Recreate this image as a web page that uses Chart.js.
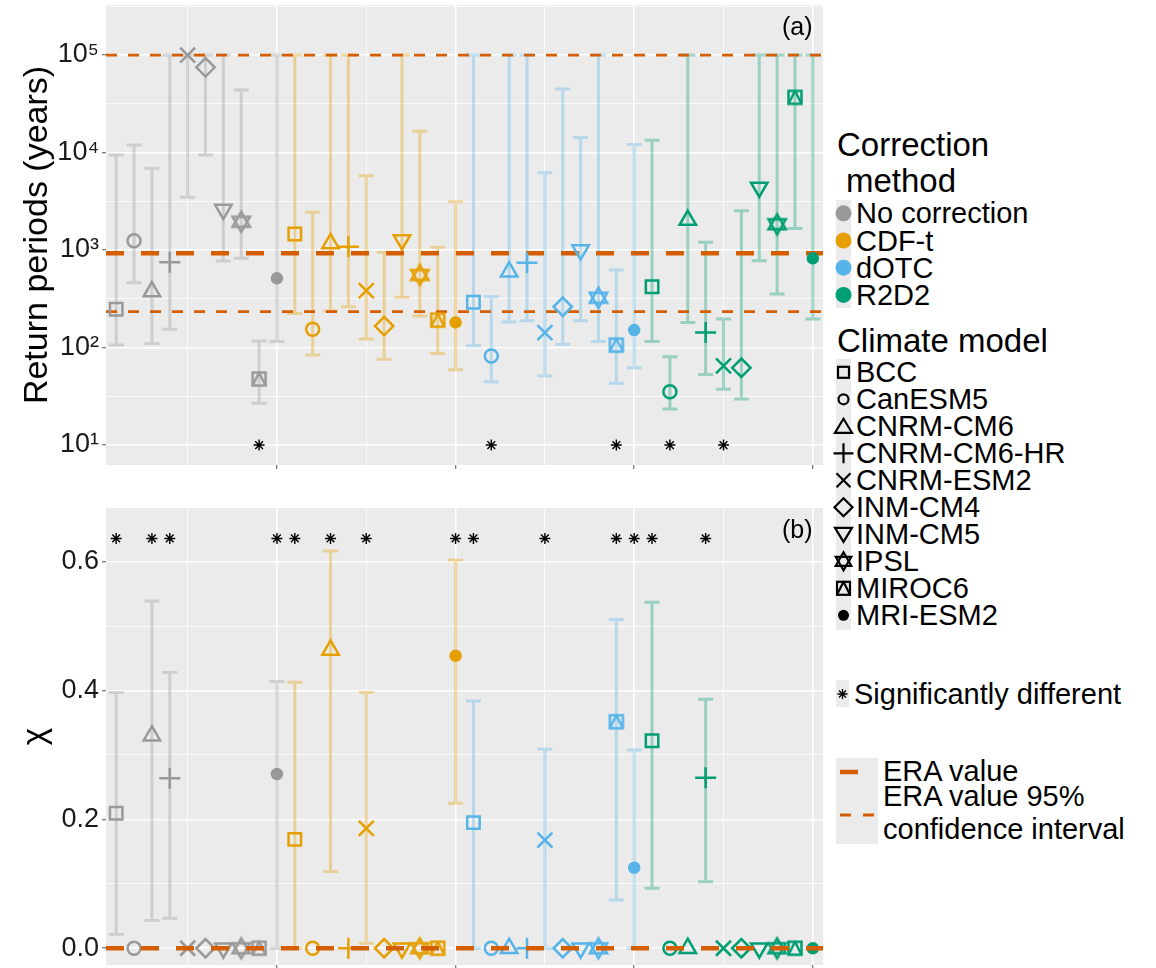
<!DOCTYPE html>
<html><head><meta charset="utf-8">
<script src="https://cdn.jsdelivr.net/npm/chart.js@4.4.0/dist/chart.umd.min.js"></script>
<style>
body{margin:0;background:#fff;width:1156px;height:968px;overflow:hidden;font-family:"Liberation Sans",Arial,sans-serif;}
#wrap{position:relative;width:1156px;height:968px;}
canvas{position:absolute;}
.t{position:absolute;white-space:nowrap;line-height:1;color:#000;}
svg{position:absolute;left:0;top:0;}
</style></head><body><div id="wrap">
<canvas id="ca" width="830" height="475" style="left:0;top:0"></canvas>
<canvas id="cb" width="830" height="468" style="left:0;top:500px"></canvas>
</div>
<script>
// ---------------- categories ----------------
const methods = ['No correction', 'CDF-t', 'dOTC', 'R2D2'];
const methodColors = ['#999999', '#E69F00', '#56B4E9', '#009E73'];
const models = ['BCC', 'CanESM5', 'CNRM-CM6', 'CNRM-CM6-HR', 'CNRM-ESM2', 'INM-CM4', 'INM-CM5', 'IPSL', 'MIROC6', 'MRI-ESM2'];

// ---------------- panel (a): return periods (years) ----------------
const rpNoCorr   = [247, 1245, 375, 750, 100000, 74800, 2600, 1950, 47.5, 513];
const rpNoCorrLo = [106, 462, 110, 154, 3470, 9420, 771, 822, 26.8, 115];
const rpNoCorrHi = [9420, 11940, 6890, 100000, 100000, 100000, 100000, 43700, 117, 100000];
const rpCDFt     = [1460, 154, 1170, 1080, 383, 166, 1270, 555, 191, 181];
const rpCDFtLo   = [224, 84, 237, 262, 122, 76, 327, 210, 87, 59];
const rpCDFtHi   = [100000, 2440, 100000, 100000, 5780, 946, 100000, 16500, 1067, 3130];
const rpDOTC     = [291, 82, 600, 741, 142, 262, 1000, 324, 106, 151];
const rpDOTCLo   = [104, 44.6, 183, 188, 51, 108, 188, 115, 43, 62];
const rpDOTCHi   = [100000, 332, 100000, 100000, 6210, 44800, 14300, 100000, 624, 12100];
const rpR2D2     = [421, 35.2, 2030, 143, 65, 62, 4380, 1840, 36800, 822];
const rpR2D2Lo   = [115, 23.4, 181, 53, 37.3, 29.6, 776, 354, 1667, 196];
const rpR2D2Hi   = [13400, 80.6, 100000, 1200, 196, 2530, 100000, 100000, 100000, 100000];
const eraReturn = 925;
const eraReturnCILow = 233;
const eraReturnCIHigh = 100000;
const sigReturnIdx = [9, 22, 29, 32, 35];
const sigReturnLevel = 10;
const rpTickValues = [10, 100, 1000, 10000, 100000];
const rpTickLabels = ['10¹', '10²', '10³', '10⁴', '10⁵'];

// ---------------- panel (b): chi ----------------
const chiNoCorr   = [0.2095, 0, 0.330, 0.264, 0, 0, 0, 0, 0, 0.2705];
const chiNoCorrLo = [0.0217, null, 0.043, 0.0465, null, null, null, null, null, 0];
const chiNoCorrHi = [0.397, null, 0.539, 0.428, null, null, null, null, null, 0.414];
const chiCDFt     = [0.169, 0, 0.463, 0, 0.186, 0, 0, 0, 0, 0.454];
const chiCDFtLo   = [0, null, 0.119, null, 0.0078, null, null, null, null, 0.225];
const chiCDFtHi   = [0.4127, null, 0.6165, null, 0.397, null, null, null, null, 0.6025];
const chiDOTC     = [0.195, 0, 0, 0, 0.168, 0, 0, 0, 0.3516, 0.125];
const chiDOTCLo   = [0, null, null, null, 0, null, null, null, 0.0749, 0];
const chiDOTCHi   = [0.3837, null, null, null, 0.3088, null, null, null, 0.5104, 0.3077];
const chiR2D2     = [0.322, 0, 0, 0.2647, 0, 0, 0, 0, 0, 0];
const chiR2D2Lo   = [0.0931, null, null, 0.1034, null, null, null, null, null, null];
const chiR2D2Hi   = [0.537, null, null, 0.3863, null, null, null, null, null, null];
const eraChi = 0;
const sigChiIdx = [1, 3, 4, 10, 11, 13, 15, 20, 21, 25, 29, 30, 31, 34];
const sigChiLevel = 0.636;
const chiTickValues = [0, 0.2, 0.4, 0.6];
const chiTickLabels = ['0.0', '0.2', '0.4', '0.6'];
const chiMinorValues = [0.1, 0.3, 0.5];

// ---------------- axis limits ----------------
const xMin = 0.43, xMax = 40.57;
const xMajor = [10, 20, 30, 40], xMinor = [5, 15, 25, 35];
const rpMin = 6.24, rpMax = 3.26e5;
const chiMin = -0.026, chiMax = 0.6833;

const FONT = '"Liberation Sans", Arial, sans-serif';
const ERA_COLOR = '#D55E00';

function hexA(hex, a){
  const n = parseInt(hex.slice(1), 16);
  return `rgba(${(n>>16)&255},${(n>>8)&255},${n&255},${a})`;
}

// composite marker images
function triPath(g, cx, cy, r, down){
  g.beginPath();
  for (let i = 0; i < 3; i++){
    const a = (down ? Math.PI : 0) + i * 2 * Math.PI / 3;
    g.lineTo(cx + r * Math.sin(a), cy - r * Math.cos(a));
  }
  g.closePath(); g.stroke();
}
function starOfDavid(color, r, lw){
  const size = Math.ceil(2 * r + 2 * lw + 4);
  const c = document.createElement('canvas'); c.width = c.height = size;
  const g = c.getContext('2d'); g.strokeStyle = color; g.lineWidth = lw;
  triPath(g, size/2, size/2, r, false);
  triPath(g, size/2, size/2, r, true);
  return c;
}
function squareTri(color, s, lw){
  const size = Math.ceil(s + 2 * lw + 4);
  const c = document.createElement('canvas'); c.width = c.height = size;
  const g = c.getContext('2d'); g.strokeStyle = color; g.lineWidth = lw;
  const cx = size/2, cy = size/2, h = s/2;
  g.strokeRect(cx - h, cy - h, s, s);
  g.lineJoin = 'round';
  g.beginPath(); g.moveTo(cx - h, cy + h); g.lineTo(cx, cy - h); g.lineTo(cx + h, cy + h); g.stroke();
  return c;
}

const LW = 2.5;
function pointStylesFor(color){
  return ['rect', 'circle', 'triangle', 'cross', 'crossRot', 'rectRot', 'triangle',
          starOfDavid(color, 10, LW), squareTri(color, 13, LW), 'circle'];
}
const pointRadii = [8.8, 6.5, 9.5, 10.5, 10.6, 9.2, 9.5, 10, 10, 5];
const pointRotations = [0, 0, 0, 0, 0, 0, 180, 0, 0, 0];

function methodDataset(mi, est, lo, hi, order){
  const color = methodColors[mi];
  return {
    type: 'scatter',
    label: methods[mi],
    data: est.map((v, k) => ({x: mi * 10 + k + 1, y: v})),
    errLo: lo, errHi: hi, errColor: hexA(color, 0.35),
    pointStyle: pointStylesFor(color),
    pointRadius: pointRadii,
    pointRotation: pointRotations,
    pointBorderColor: color,
    pointBackgroundColor: models.map((m, k) => k === 9 ? color : 'rgba(0,0,0,0)'),
    pointBorderWidth: LW,
    order: order
  };
}
function refLine(val, width, dash, order){
  return {
    type: 'line',
    data: [{x: xMin, y: val}, {x: xMax, y: val}],
    borderColor: ERA_COLOR, borderWidth: width, borderDash: dash,
    pointRadius: 0, fill: false, tension: 0, order: order
  };
}
function starSet(idx, level){
  return {
    type: 'scatter',
    data: idx.map(i => ({x: i, y: level})),
    pointStyle: 'star', pointRadius: 5.5, pointBorderColor: '#000',
    pointBackgroundColor: '#000', pointBorderWidth: 1.4, order: 0
  };
}

const panelBg = {
  id: 'panelBg',
  beforeDraw(chart){
    const {ctx, chartArea: a} = chart;
    ctx.save(); ctx.fillStyle = '#EBEBEB';
    ctx.fillRect(a.left, a.top, a.right - a.left, a.bottom - a.top);
    ctx.restore();
  }
};
const errorBars = {
  id: 'errorBars',
  beforeDatasetsDraw(chart){
    const {ctx, chartArea: a, scales: {x, y}} = chart;
    ctx.save();
    ctx.beginPath(); ctx.rect(a.left, a.top, a.right - a.left, a.bottom - a.top); ctx.clip();
    chart.data.datasets.forEach(ds => {
      if (!ds.errLo) return;
      ctx.strokeStyle = ds.errColor; ctx.lineWidth = 3; ctx.lineCap = 'butt';
      ds.data.forEach((p, i) => {
        const lo = ds.errLo[i], hi = ds.errHi[i];
        if (lo == null || hi == null) return;
        const px = x.getPixelForValue(p.x);
        const y1 = y.getPixelForValue(lo), y2 = y.getPixelForValue(hi);
        ctx.beginPath();
        ctx.moveTo(px, y1); ctx.lineTo(px, y2);
        ctx.moveTo(px - 7.5, y1); ctx.lineTo(px + 7.5, y1);
        ctx.moveTo(px - 7.5, y2); ctx.lineTo(px + 7.5, y2);
        ctx.stroke();
      });
    });
    ctx.restore();
  }
};

function xScale(h){
  return {
    type: 'linear', min: xMin, max: xMax,
    afterBuildTicks: s => { s.ticks = xMinor.concat(xMajor).sort((a, b) => a - b).map(v => ({value: v})); },
    afterFit: s => { s.height = h; s.paddingLeft = 0; s.paddingRight = 0; },
    ticks: {autoSkip: false, callback: () => '', padding: 0, font: {size: 2}},
    grid: {
      color: '#ffffff',
      lineWidth: c => (c.tick && xMajor.includes(c.tick.value)) ? 1.5 : 0.75,
      drawTicks: true, tickLength: 4, tickWidth: 1,
      tickColor: c => (c.tick && xMajor.includes(c.tick.value)) ? '#555555' : 'rgba(0,0,0,0)'
    },
    border: {display: false}
  };
}
const baseOpts = {
  responsive: false, animation: false, devicePixelRatio: 1, events: [],
  plugins: {legend: {display: false}, tooltip: {enabled: false}}
};

// ---------------- chart (a) ----------------
const rpMinor = rpTickValues.map(v => v * Math.sqrt(10));
new Chart(document.getElementById('ca'), {
  type: 'scatter',
  data: {datasets: [
    refLine(eraReturn, 4.5, [18, 17], 3),
    refLine(eraReturnCILow, 2.8, [11, 11], 3),
    refLine(eraReturnCIHigh, 2.8, [11, 11], 3),
    methodDataset(0, rpNoCorr, rpNoCorrLo, rpNoCorrHi, 1),
    methodDataset(1, rpCDFt, rpCDFtLo, rpCDFtHi, 1),
    methodDataset(2, rpDOTC, rpDOTCLo, rpDOTCHi, 1),
    methodDataset(3, rpR2D2, rpR2D2Lo, rpR2D2Hi, 1),
    starSet(sigReturnIdx, sigReturnLevel)
  ]},
  options: Object.assign({}, baseOpts, {
    layout: {autoPadding: false, padding: {left: 0, right: 7, top: 5, bottom: 0}},
    scales: {
      x: xScale(10),
      y: {
        type: 'logarithmic', min: rpMin, max: rpMax,
        afterBuildTicks: s => { s.ticks = rpTickValues.concat(rpMinor).filter(v => v <= rpMax).sort((a, b) => a - b).map(v => ({value: v})); },
        afterFit: s => { s.width = 106; s.paddingTop = 0; s.paddingBottom = 0; },
        ticks: {
          autoSkip: false, font: {family: FONT, size: 27}, color: '#1a1a1a', padding: 3,
          callback: v => { const i = rpTickValues.indexOf(v); return i >= 0 ? rpTickLabels[i] : ''; }
        },
        grid: {
          color: '#ffffff',
          lineWidth: c => (c.tick && rpTickValues.includes(c.tick.value)) ? 1.5 : 0.75,
          drawTicks: true, tickLength: 4, tickWidth: 1,
          tickColor: c => (c.tick && rpTickValues.includes(c.tick.value)) ? '#555555' : 'rgba(0,0,0,0)'
        },
        border: {display: false},
        title: {display: true, text: 'Return periods (years)', font: {family: FONT, size: 34}, color: '#000', padding: {top: 17, bottom: 0}}
      }
    }
  }),
  plugins: [panelBg, errorBars]
});

// ---------------- chart (b) ----------------
new Chart(document.getElementById('cb'), {
  type: 'scatter',
  data: {datasets: [
    refLine(eraChi, 4.5, [18, 17], 1),
    methodDataset(0, chiNoCorr, chiNoCorrLo, chiNoCorrHi, 2),
    methodDataset(1, chiCDFt, chiCDFtLo, chiCDFtHi, 2),
    methodDataset(2, chiDOTC, chiDOTCLo, chiDOTCHi, 2),
    methodDataset(3, chiR2D2, chiR2D2Lo, chiR2D2Hi, 2),
    starSet(sigChiIdx, sigChiLevel)
  ]},
  options: Object.assign({}, baseOpts, {
    layout: {autoPadding: false, padding: {left: 0, right: 7, top: 8, bottom: 0}},
    scales: {
      x: xScale(3),
      y: {
        type: 'linear', min: chiMin, max: chiMax,
        afterBuildTicks: s => { s.ticks = chiTickValues.concat(chiMinorValues).sort((a, b) => a - b).map(v => ({value: v})); },
        afterFit: s => { s.width = 106; s.paddingTop = 0; s.paddingBottom = 0; },
        ticks: {
          autoSkip: false, font: {family: FONT, size: 27}, color: '#1a1a1a', padding: 3,
          callback: v => { const i = chiTickValues.indexOf(v); return i >= 0 ? chiTickLabels[i] : ''; }
        },
        grid: {
          color: '#ffffff',
          lineWidth: c => (c.tick && chiTickValues.includes(c.tick.value)) ? 1.5 : 0.75,
          drawTicks: true, tickLength: 4, tickWidth: 1,
          tickColor: c => (c.tick && chiTickValues.includes(c.tick.value)) ? '#555555' : 'rgba(0,0,0,0)'
        },
        border: {display: false},
        title: {display: true, text: 'χ', font: {family: FONT, size: 33}, color: '#000', padding: {top: 16, bottom: 0}}
      }
    }
  }),
  plugins: [panelBg, errorBars]
});

// ---------------- text labels & legend ----------------
const wrap = document.getElementById('wrap');
function txt(str, x, baseline, size){
  const d = document.createElement('div');
  d.className = 't'; d.textContent = str;
  d.style.left = x + 'px';
  d.style.top = (baseline - 0.8465 * size) + 'px';
  d.style.fontSize = size + 'px';
  wrap.appendChild(d);
}
txt('(a)', 782, 35, 25);
txt('(b)', 782, 538, 25);

const LEG_X = 843.5;
let svg = '';
// key backgrounds
svg += `<rect x="836" y="200" width="15" height="108" fill="#EBEBEB"/>`;
svg += `<rect x="836" y="359" width="15" height="271" fill="#EBEBEB"/>`;
svg += `<rect x="836" y="680" width="13" height="27" fill="#EBEBEB"/>`;
svg += `<rect x="836" y="758" width="42" height="86" fill="#EBEBEB"/>`;

txt('Correction', 837, 156, 33);
txt('method', 846, 192, 33);
methods.forEach((m, i) => {
  const cy = 213.3 + i * 27.2;
  svg += `<circle cx="${LEG_X}" cy="${cy}" r="8" fill="${methodColors[i]}"/>`;
  txt(m, 856, cy + 10.6, 29);
});

txt('Climate model', 837, 352, 33);
function legSym(k, cx, cy){
  const st = 'fill="none" stroke="#000" stroke-width="2.2"';
  switch (k){
    case 0: return `<rect x="${cx-5.5}" y="${cy-5.5}" width="11" height="11" ${st}/>`;
    case 1: return `<circle cx="${cx}" cy="${cy}" r="5" ${st}/>`;
    case 2: return `<polygon points="${cx},${cy-7.5} ${cx-8.5},${cy+6.5} ${cx+8.5},${cy+6.5}" ${st}/>`;
    case 3: return `<path d="M${cx-10},${cy}H${cx+10}M${cx},${cy-10}V${cy+10}" ${st}/>`;
    case 4: return `<path d="M${cx-7},${cy-7}L${cx+7},${cy+7}M${cx-7},${cy+7}L${cx+7},${cy-7}" ${st}/>`;
    case 5: return `<polygon points="${cx},${cy-9} ${cx+9},${cy} ${cx},${cy+9} ${cx-9},${cy}" ${st}/>`;
    case 6: return `<polygon points="${cx-8.5},${cy-6.5} ${cx+8.5},${cy-6.5} ${cx},${cy+7.5}" ${st}/>`;
    case 7: return `<polygon points="${cx},${cy-9} ${cx-7.8},${cy+4.5} ${cx+7.8},${cy+4.5}" ${st}/><polygon points="${cx},${cy+9} ${cx-7.8},${cy-4.5} ${cx+7.8},${cy-4.5}" ${st}/>`;
    case 8: return `<rect x="${cx-6.5}" y="${cy-6.5}" width="13" height="13" ${st}/><path d="M${cx-6.5},${cy+6.5}L${cx},${cy-6.5}L${cx+6.5},${cy+6.5}" ${st} stroke-linejoin="round"/>`;
    case 9: return `<circle cx="${cx}" cy="${cy}" r="5.5" fill="#000"/>`;
  }
  return '';
}
models.forEach((m, k) => {
  const cy = 372.3 + k * 27;
  svg += legSym(k, LEG_X, cy);
  txt(m, 856, cy + 10.4, 29);
});

// significantly different
(function(){
  const cx = 842.5, cy = 694, r = 5;
  const d = r * Math.SQRT1_2;
  svg += `<path d="M${cx-r},${cy}H${cx+r}M${cx},${cy-r}V${cy+r}M${cx-d},${cy-d}L${cx+d},${cy+d}M${cx-d},${cy+d}L${cx+d},${cy-d}" stroke="#000" stroke-width="1.3" fill="none"/>`;
})();
txt('Significantly different', 854, 705, 29);

// ERA keys
svg += `<line x1="840" y1="772" x2="858" y2="772" stroke="${ERA_COLOR}" stroke-width="4.5"/>`;
svg += `<line x1="840" y1="815" x2="851" y2="815" stroke="${ERA_COLOR}" stroke-width="3"/>`;
svg += `<line x1="863" y1="815" x2="874" y2="815" stroke="${ERA_COLOR}" stroke-width="3"/>`;
txt('ERA value', 883, 782, 29);
txt('ERA value 95%', 883, 807, 29);
txt('confidence interval', 883, 840, 29);

const s = document.createElementNS('http://www.w3.org/2000/svg', 'svg');
s.setAttribute('width', '1156'); s.setAttribute('height', '968');
s.innerHTML = svg;
wrap.appendChild(s);
</script>
</body></html>
